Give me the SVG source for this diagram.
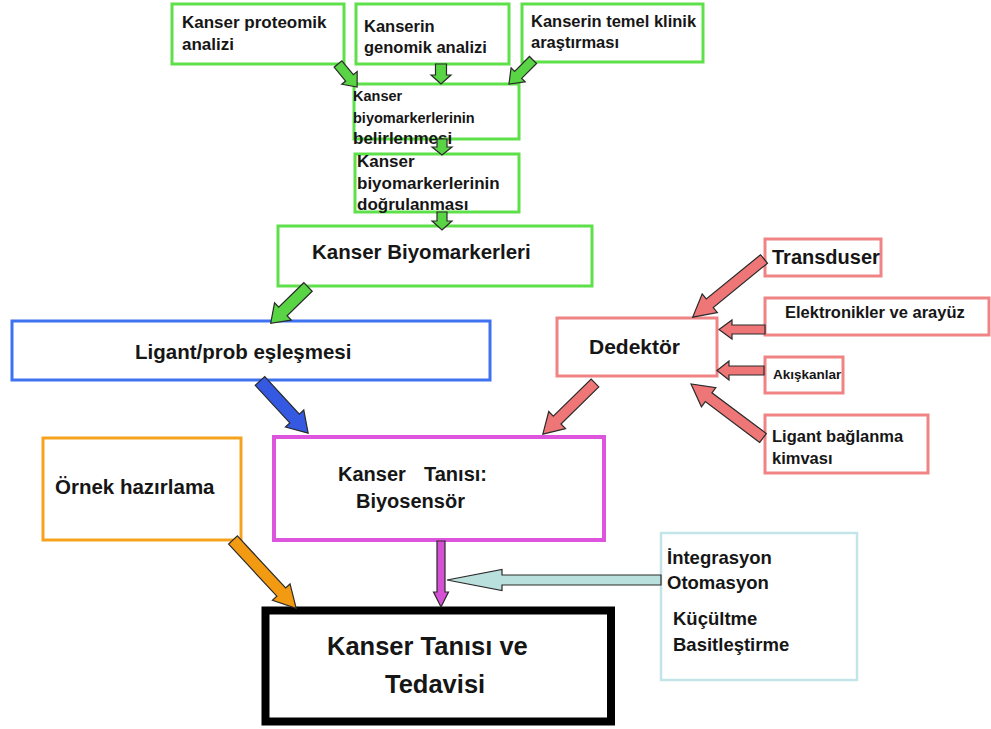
<svg xmlns="http://www.w3.org/2000/svg" width="991" height="729" viewBox="0 0 991 729">
<style>
.t{font-family:"Liberation Sans",Arial,sans-serif;font-weight:bold;fill:#161616}
rect{fill:#fff}
.g{stroke:#5ee04a;stroke-width:3}
.b{stroke:#3f72f0;stroke-width:3}
.r{stroke:#f08484;stroke-width:3}
.o{stroke:#f5a31f;stroke-width:3}
.m{stroke:#dc55dc;stroke-width:4}
.k{stroke:#000;stroke-width:8}
.c{stroke:#c4e5e7;stroke-width:2.5}
.ar{stroke:#2a2a2a;stroke-width:1.2;stroke-linejoin:miter}
.ag{fill:#58d444}.ab{fill:#3559e0}.arr{fill:#ee7676}.ao{fill:#f29a12}.am{fill:#d650d6}.ac{fill:#b9e0dd}
</style>
<rect width="991" height="729" fill="#fff"/>
<g id="n-proteomik"><rect class="g" x="172" y="4" width="172" height="60"/>
<text class="t" font-size="17"><tspan x="182" y="28">Kanser proteomik</tspan><tspan x="182" y="50">analizi</tspan></text></g>
<g id="n-genomik"><rect class="g" x="356" y="4" width="153" height="60"/>
<text class="t" font-size="16.5"><tspan x="364" y="32">Kanserin</tspan><tspan x="364" y="53">genomik analizi</tspan></text></g>
<g id="n-klinik"><rect class="g" x="522" y="4" width="181" height="58"/>
<text class="t" font-size="16.5"><tspan x="531" y="27">Kanserin temel klinik</tspan><tspan x="531" y="48">araştırması</tspan></text></g>
<g id="n-belirlenmesi"><rect class="g" x="354" y="84" width="165" height="55"/>
<text class="t"><tspan x="353" y="101" font-size="14.5">Kanser</tspan><tspan x="353" y="123" font-size="14.5">biyomarkerlerinin</tspan><tspan x="353" y="144" font-size="17">belirlenmesi</tspan></text></g>
<g id="n-dogrulanmasi"><rect class="g" x="355" y="154" width="164" height="58"/>
<text class="t" font-size="17"><tspan x="357" y="167">Kanser</tspan><tspan x="357" y="189">biyomarkerlerinin</tspan><tspan x="357" y="210">doğrulanması</tspan></text></g>
<g id="n-biyomarkerleri"><rect class="g" x="278" y="226" width="314" height="60"/>
<text class="t" font-size="20.5" x="312" y="259">Kanser Biyomarkerleri</text></g>
<g id="n-ligant"><rect class="b" x="12" y="321" width="478" height="59"/>
<text class="t" font-size="20.5" x="135" y="359">Ligant/prob eşleşmesi</text></g>
<g id="n-dedektor"><rect class="r" x="557" y="318" width="160" height="58"/>
<text class="t" font-size="21" x="589" y="354">Dedektör</text></g>
<g id="n-transduser"><rect class="r" x="765" y="239" width="116" height="37"/>
<text class="t" font-size="20" x="772" y="264">Transduser</text></g>
<g id="n-elektronik"><rect class="r" x="765" y="298" width="224" height="37"/>
<text class="t" font-size="16.5" x="785" y="318">Elektronikler ve arayüz</text></g>
<g id="n-akiskanlar"><rect class="r" x="765" y="357" width="78" height="36"/>
<text class="t" font-size="13.5" x="773" y="379">Akışkanlar</text></g>
<g id="n-baglanma"><rect class="r" x="765" y="415" width="163" height="58"/>
<text class="t" font-size="16.5"><tspan x="772" y="442">Ligant bağlanma</tspan><tspan x="772" y="464">kimvası</tspan></text></g>
<g id="n-ornek"><rect class="o" x="43" y="438" width="198" height="102"/>
<text class="t" font-size="20.5" x="55" y="494">Örnek hazırlama</text></g>
<g id="n-biyosensor"><rect class="m" x="274" y="437" width="330" height="103"/>
<text class="t" font-size="20"><tspan x="338" y="481">Kanser</tspan><tspan x="424" y="481">Tanısı:</tspan><tspan x="356" y="508">Biyosensör</tspan></text></g>
<g id="n-tedavi"><rect class="k" x="265.5" y="610.5" width="345.5" height="111"/>
<text class="t" font-size="25.5"><tspan x="327" y="655">Kanser Tanısı ve</tspan><tspan x="385" y="693">Tedavisi</tspan></text></g>
<g id="n-integrasyon"><rect class="c" x="661" y="533" width="196" height="147"/>
<text class="t" font-size="18.5"><tspan x="667" y="564">İntegrasyon</tspan><tspan x="667" y="589">Otomasyon</tspan><tspan x="673" y="625">Küçültme</tspan><tspan x="673" y="651">Basitleştirme</tspan></text></g>
<g id="connectors">
<polygon class="ar ag" transform="translate(338,64) rotate(50.4)" points="0,-5 18,-5 18,-10 30,0 18,10 18,5 0,5"/>
<polygon class="ar ag" transform="translate(441,64) rotate(90)" points="0,-5.5 11,-5.5 11,-10 20,0 11,10 11,5.5 0,5.5"/>
<polygon class="ar ag" transform="translate(533,60) rotate(135)" points="0,-5 21,-5 21,-10 34,0 21,10 21,5 0,5"/>
<polygon class="ar ag" transform="translate(442,139) rotate(90)" points="0,-5 8,-5 8,-10 16,0 8,10 8,5 0,5"/>
<polygon class="ar ag" transform="translate(442,212) rotate(90)" points="0,-5 9,-5 9,-10 18,0 9,10 9,5 0,5"/>
<polygon class="ar ag" transform="translate(308,287) rotate(135.8)" points="0,-6 35,-6 35,-12 52,0 35,12 35,6 0,6"/>
<polygon class="ar ab" transform="translate(260,381) rotate(47.3)" points="0,-6.5 51,-6.5 51,-12.5 71,0 51,12.5 51,6.5 0,6.5"/>
<polygon class="ar arr" transform="translate(764,259) rotate(140.8)" points="0,-5.5 70,-5.5 70,-12 92,0 70,12 70,5.5 0,5.5"/>
<polygon class="ar arr" transform="translate(765,329.5) rotate(180)" points="0,-4.5 33,-4.5 33,-9.5 46,0 33,9.5 33,4.5 0,4.5"/>
<polygon class="ar arr" transform="translate(764,370.5) rotate(180)" points="0,-4.5 35,-4.5 35,-9.5 47,0 35,9.5 35,4.5 0,4.5"/>
<polygon class="ar arr" transform="translate(763,438) rotate(-143.1)" points="0,-5.5 68,-5.5 68,-12 90,0 68,12 68,5.5 0,5.5"/>
<polygon class="ar arr" transform="translate(595,383) rotate(135.6)" points="0,-5.5 53,-5.5 53,-12 73,0 53,12 53,5.5 0,5.5"/>
<polygon class="ar am" transform="translate(441,541) rotate(90)" points="0,-4 51,-4 51,-7.5 66,0 51,7.5 51,4 0,4"/>
<polygon class="ar ac" transform="translate(661,580) rotate(180)" points="0,-5 159,-5 159,-10.5 214,0 159,10.5 159,5 0,5"/>
<polygon class="ar ao" transform="translate(233,540) rotate(47.2)" points="0,-6 71,-6 71,-12 93,0 71,12 71,6 0,6"/>
</g>
</svg>
